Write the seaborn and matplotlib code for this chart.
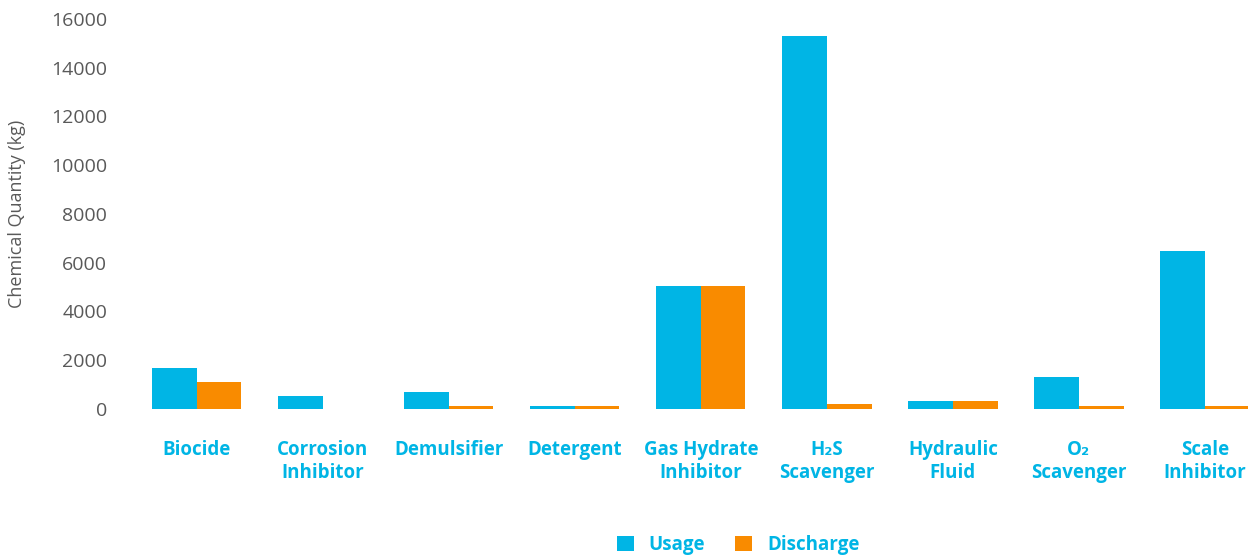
import matplotlib
matplotlib.use("Agg")
import matplotlib.pyplot as plt
import seaborn as sns
import pandas as pd

# Chemical usage and discharge per chemical function (kg)
categories = ["Biocide", "Corrosion\nInhibitor", "Demulsifier", "Detergent",
              "Gas Hydrate\nInhibitor", "H\u2082S\nScavenger", "Hydraulic\nFluid",
              "O\u2082\nScavenger", "Scale\nInhibitor"]
usage = [1700, 530, 700, 120, 5050, 15300, 330, 1300, 6500]
discharge = [1100, 0, 120, 120, 5050, 200, 330, 120, 120]
series = ["Usage", "Discharge"]
y_ticks = [0, 2000, 4000, 6000, 8000, 10000, 12000, 14000, 16000]

BLUE = "#00B5E5"
ORANGE = "#F98B00"
GREY = "#595959"
FONT = ["Open Sans", "DejaVu Sans"]

df = pd.DataFrame({
    "Category": categories * 2,
    "Series": [series[0]] * len(categories) + [series[1]] * len(categories),
    "Quantity": usage + discharge,
})

sns.set_theme(style="white")
plt.rcParams["font.family"] = FONT

fig = plt.figure(figsize=(12.48, 5.55), dpi=100)
ax = fig.add_axes([0.107, 0.263, 0.909, 0.703])

sns.barplot(data=df, x="Category", y="Quantity", hue="Series",
            palette=[BLUE, ORANGE], width=0.71, saturation=1,
            errorbar=None, linewidth=0, ax=ax)

ax.set_ylim(0, 16000)
ax.set_yticks(y_ticks)
ax.set_yticklabels([str(v) for v in y_ticks], color=GREY, fontsize=14)
ax.tick_params(axis="y", length=0, pad=19)
ax.tick_params(axis="x", length=0, pad=22)
for lbl in ax.get_xticklabels():
    lbl.set_color(BLUE)
    lbl.set_fontsize(13.5)
    lbl.set_fontweight("bold")
    lbl.set_linespacing(1.2)
ax.set_xlabel("")
ax.set_ylabel("Chemical Quantity (kg)", color=GREY, fontsize=13)
ax.yaxis.set_label_coords(-0.095, 0.5)
for s in ax.spines.values():
    s.set_visible(False)
ax.grid(False)

handles, labels = ax.get_legend_handles_labels()
ax.get_legend().remove()
fig.legend(handles, labels, loc="center", bbox_to_anchor=(738 / 1248, 1 - 545 / 555),
           ncol=2, frameon=False, handlelength=0.9, handleheight=0.9,
           handletextpad=0.8, columnspacing=1.6, labelcolor=BLUE,
           prop={"family": FONT, "weight": "bold", "size": 13.5})

fig.savefig("out.png", dpi=100)
